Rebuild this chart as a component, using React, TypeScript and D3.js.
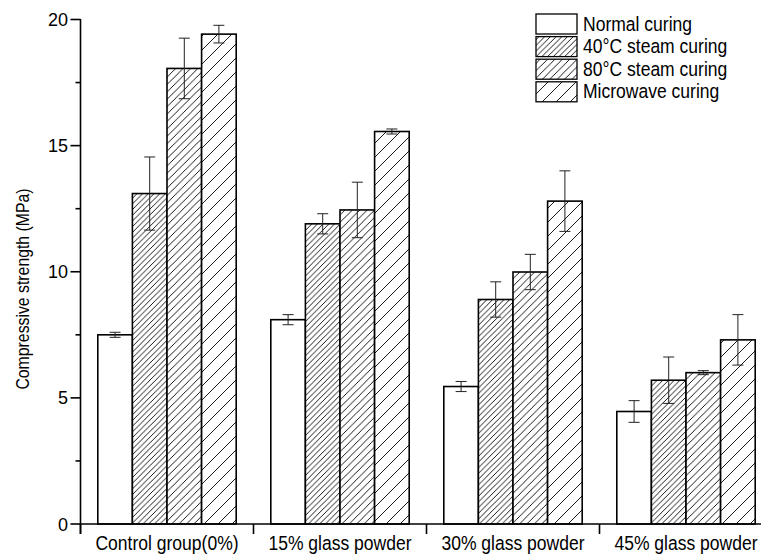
import React from "react";
import * as d3 from "d3";

const groups = ["Control group(0%)", "15% glass powder", "30% glass powder", "45% glass powder"];
const seriesNames = ["Normal curing", "40°C steam curing", "80°C steam curing", "Microwave curing"];
const normalCuring = [7.5, 8.1, 5.45, 4.46];
const steam40 = [13.1, 11.9, 8.9, 5.7];
const steam80 = [18.06, 12.45, 9.99, 6.0];
const microwave = [19.42, 15.56, 12.8, 7.3];
const normalErr = [0.1, 0.2, 0.2, 0.43];
const steam40Err = [1.45, 0.4, 0.7, 0.92];
const steam80Err = [1.2, 1.1, 0.7, 0.08];
const microwaveErr = [0.35, 0.1, 1.2, 1.0];
const yTicks = [0, 5, 10, 15, 20];

const values = [normalCuring, steam40, steam80, microwave];
const errors = [normalErr, steam40Err, steam80Err, microwaveErr];
// hatch spacing per series (0 = empty fill)
const hatchGap = [0, 5.7, 7.4, 14];

const W = 761;
const H = 556;
const x0 = 80.5;
const yBase = 524;
const catW = 173;

// condensed text helper: keeps the width of a 17.5px face with taller glyphs
const FS = 20.5;
const SX = 0.855;

function CText(props: { x: number; y: number; anchor?: string; children: React.ReactNode }) {
  return (
    <text
      transform={`translate(${props.x},${props.y}) scale(${SX},1)`}
      textAnchor={props.anchor || "start"}
      fontSize={FS}
      fill="#000"
    >
      {props.children}
    </text>
  );
}

export default function App() {
  const y = d3.scaleLinear().domain([0, 20]).range([yBase, 19.5]);
  const x = d3
    .scaleBand<string>()
    .domain(groups)
    .range([x0, x0 + catW * groups.length])
    .paddingInner(0)
    .paddingOuter(0);
  const xs = d3
    .scaleBand<number>()
    .domain([0, 1, 2, 3])
    .range([0, catW])
    .paddingInner(0)
    .paddingOuter(0.5);

  const minorTicks = d3.range(2.5, 20, 5);
  const font = "Arial, 'Liberation Sans', sans-serif";

  const fillFor = (i: number) => (hatchGap[i] ? `url(#hatch${i})` : "#fff");

  return (
    <svg
      width={W}
      height={H}
      style={{ position: "absolute", left: 0, top: 0, background: "#fff" }}
      fontFamily={font}
    >
      <defs>
        {hatchGap.map((g, i) =>
          g ? (
            <pattern
              key={i}
              id={`hatch${i}`}
              patternUnits="userSpaceOnUse"
              width={g}
              height={g}
            >
              <rect width={g} height={g} fill="#fff" />
              <path
                d={`M${-g},${g} L${g},${-g} M0,${2 * g} L${2 * g},0 M${-g},${2 * g} L${2 * g},${-g}`}
                stroke="#000"
                strokeWidth={0.9}
              />
            </pattern>
          ) : null
        )}
      </defs>
      <rect width={W} height={H} fill="#fff" />

      {/* bars */}
      {groups.map((gname, gi) =>
        values.map((vals, si) => {
          const bx = (x(gname) as number) + (xs(si) as number);
          const bw = xs.bandwidth();
          const top = y(vals[gi]);
          return (
            <rect
              key={`${gi}-${si}`}
              x={bx}
              y={top}
              width={bw}
              height={yBase - top}
              fill={fillFor(si)}
              stroke="#000"
              strokeWidth={1.6}
            />
          );
        })
      )}

      {/* error bars */}
      {groups.map((gname, gi) =>
        values.map((vals, si) => {
          const cx = (x(gname) as number) + (xs(si) as number) + xs.bandwidth() / 2;
          const hi = y(vals[gi] + errors[si][gi]);
          const lo = y(vals[gi] - errors[si][gi]);
          return (
            <g key={`e${gi}-${si}`} stroke="#222" strokeWidth={1}>
              <line x1={cx} x2={cx} y1={hi} y2={lo} />
              <line x1={cx - 5.5} x2={cx + 5.5} y1={hi} y2={hi} />
              <line x1={cx - 5.5} x2={cx + 5.5} y1={lo} y2={lo} />
            </g>
          );
        })
      )}

      {/* y axis */}
      <line x1={x0} x2={x0} y1={y(20) - 0.5} y2={yBase + 10} stroke="#000" strokeWidth={1.6} />
      {yTicks.map((t) => (
        <g key={t}>
          <line x1={x0 - 10} x2={x0} y1={y(t)} y2={y(t)} stroke="#000" strokeWidth={1.6} />
          <text x={x0 - 12.5} y={y(t) + 6.5} textAnchor="end" fontSize={18} fill="#000">
            {t}
          </text>
        </g>
      ))}
      {minorTicks.map((t) => (
        <line key={t} x1={x0 - 5} x2={x0} y1={y(t)} y2={y(t)} stroke="#000" strokeWidth={1.6} />
      ))}
      <text
        transform={`translate(29,289) rotate(-90) scale(${SX},1)`}
        textAnchor="middle"
        fontSize={18.5}
        fill="#000"
      >
        Compressive strength (MPa)
      </text>

      {/* x axis */}
      <line x1={x0} x2={x0 + catW * groups.length} y1={yBase} y2={yBase} stroke="#000" strokeWidth={1.6} />
      {groups.map((g) => (
        <g key={g}>
          <line
            x1={x(g) as number}
            x2={x(g) as number}
            y1={yBase}
            y2={yBase + 10}
            stroke="#000"
            strokeWidth={1.6}
          />
          <CText x={(x(g) as number) + catW / 2} y={549.5} anchor="middle">
            {g}
          </CText>
        </g>
      ))}

      {/* legend */}
      {seriesNames.map((name, i) => {
        const ly = 14 + i * 22.6;
        return (
          <g key={name}>
            <rect
              x={536}
              y={ly}
              width={41}
              height={20}
              fill={fillFor(i)}
              stroke="#000"
              strokeWidth={1.3}
            />
            <CText x={583} y={ly + 16.5}>
              {name}
            </CText>
          </g>
        );
      })}
    </svg>
  );
}
